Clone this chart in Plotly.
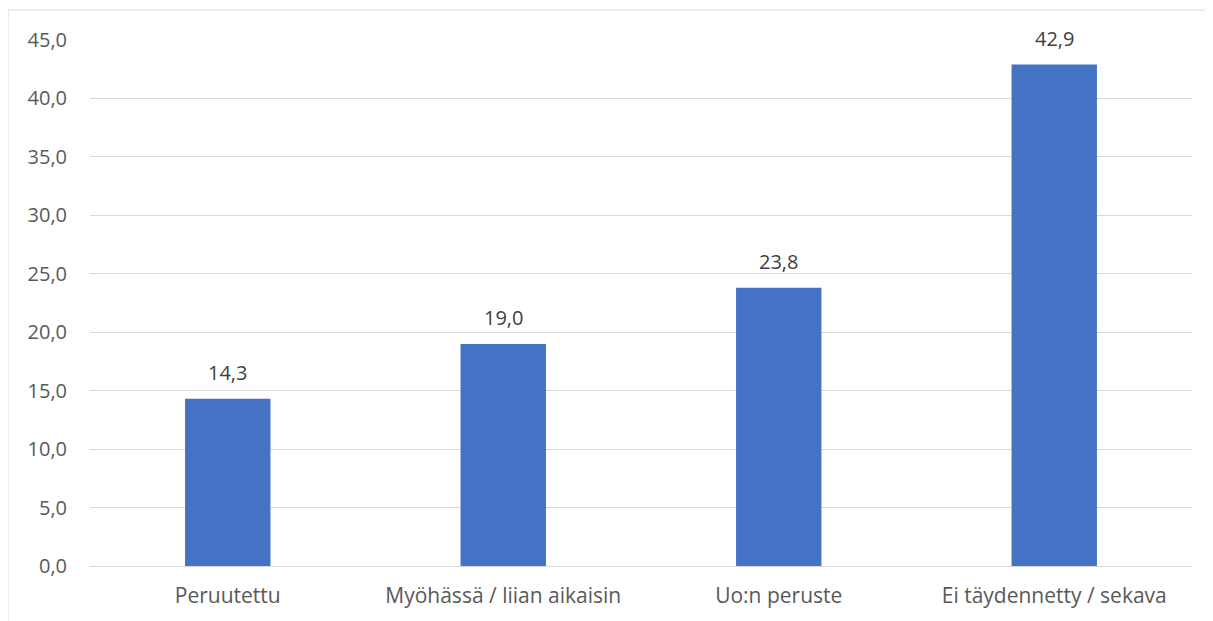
import plotly.graph_objects as go

categories = ["Peruutettu", "Myöhässä / liian aikaisin", "Uo:n peruste", "Ei täydennetty / sekava"]
values = [14.3, 19.0, 23.8, 42.9]
y_ticks = [0, 5, 10, 15, 20, 25, 30, 35, 40, 45]

FONT = "Open Sans, Liberation Sans, sans-serif"

fig = go.Figure()
fig.add_trace(go.Bar(
    x=categories, y=values,
    marker=dict(color="#4472C4", line=dict(width=0)),
    width=0.31,
    hoverinfo="skip",
))

for c, v in zip(categories, values):
    fig.add_annotation(
        x=c, y=v, text=f"{v:.1f}".replace(".", ","),
        showarrow=False, yanchor="bottom", yshift=11,
        font=dict(family=FONT, size=20, color="#404040"),
    )

fig.update_layout(
    width=1213, height=621,
    margin=dict(l=82, r=29, t=32, b=63),
    paper_bgcolor="white", plot_bgcolor="white",
    separators=", ",
    showlegend=False,
    font=dict(family=FONT, size=20, color="#595959"),
    xaxis=dict(showgrid=False, showline=False, ticks="", ticklabelstandoff=15,
               tickfont=dict(size=21, color="#595959")),
    yaxis=dict(
        range=[0, 45], tickvals=y_ticks, tickformat=".1f",
        showgrid=True, gridcolor="#D9D9D9", gridwidth=1,
        zeroline=True, zerolinecolor="#D9D9D9", zerolinewidth=1,
        showline=False, ticks="", ticklabelstandoff=22,
        tickfont=dict(size=20, color="#595959"),
    ),
    shapes=[dict(
        type="rect", xref="paper", yref="paper",
        x0=-0.0744, x1=1.2, y0=-0.3, y1=1.057,
        line=dict(color="#D9D9D9", width=1), layer="below",
    )],
)

fig.write_html("out.html")
